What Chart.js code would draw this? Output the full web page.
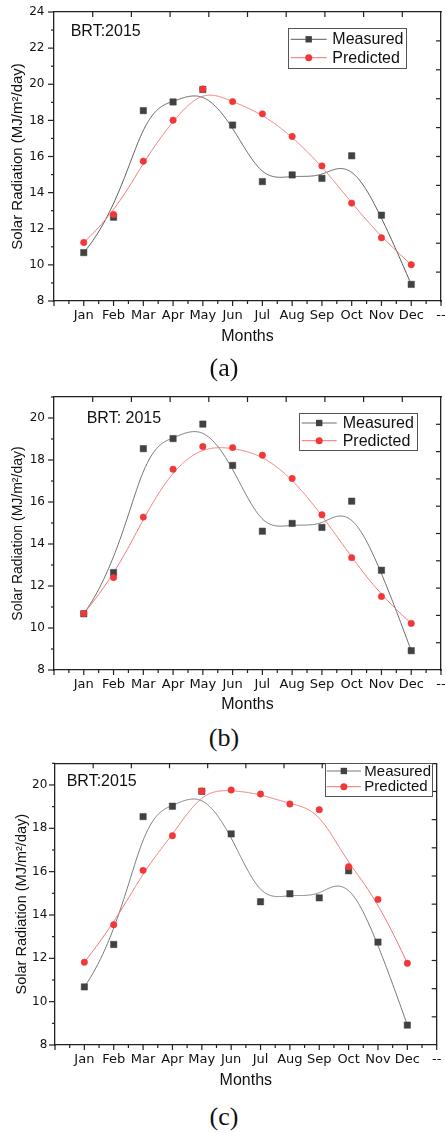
<!DOCTYPE html>
<html>
<head>
<meta charset="utf-8">
<script src="https://cdn.jsdelivr.net/npm/chart.js@4.4.1/dist/chart.umd.min.js"></script>
<style>
html,body{margin:0;padding:0;background:#fff;}
body{width:446px;height:1133px;position:relative;overflow:hidden;}
canvas{position:absolute;left:0;}
.cap{position:absolute;left:0;width:448px;text-align:center;font-family:"Liberation Serif","Times New Roman",serif;font-size:26px;line-height:26px;color:#111;}
</style>
</head>
<body>
<canvas id="ca" width="446" height="350" style="top:0px"></canvas>
<canvas id="cb" width="446" height="340" style="top:380px"></canvas>
<canvas id="cc" width="446" height="340" style="top:755px"></canvas>
<div class="cap" style="top:355px">(a)</div>
<div class="cap" style="top:725px">(b)</div>
<div class="cap" style="top:1104px">(c)</div>
<script>
// ---- data ----
const months = ['Jan','Feb','Mar','Apr','May','Jun','Jul','Aug','Sep','Oct','Nov','Dec'];
const xTickLabels = ['', ...months, '--'];
const measured   = [10.68, 12.64, 18.54, 19.02, 19.71, 17.74, 14.61, 14.98, 14.79, 16.04, 12.75, 8.92];
const predictedA = [11.24, 12.79, 15.74, 18.01, 19.74, 19.04, 18.36, 17.11, 15.48, 13.42, 11.50, 10.01];
const predictedB = [10.69, 12.40, 15.28, 17.56, 18.64, 18.59, 18.23, 17.12, 15.39, 13.35, 11.50, 10.22];
const predictedC = [11.82, 13.55, 16.06, 17.66, 19.72, 19.77, 19.58, 19.12, 18.86, 16.23, 14.72, 11.77];
const yLabeledA = [8, 10, 12, 14, 16, 18, 20, 22, 24];
const yLabeledBC = [8, 10, 12, 14, 16, 18, 20];
const seriesNames = ['Measured', 'Predicted'];

Chart.defaults.font.family = '"Liberation Sans", Arial, sans-serif';
Chart.defaults.color = '#111';

// B-spline curve (Origin style) through the dataset elements' pixel positions
const bsplinePlugin = {
  id: 'bspline',
  beforeDatasetsDraw(chart) {
    const ctx = chart.ctx, a = chart.chartArea;
    ctx.save();
    ctx.beginPath(); ctx.rect(a.left, a.top, a.right - a.left, a.bottom - a.top); ctx.clip();
    chart.data.datasets.forEach((ds, i) => {
      const meta = chart.getDatasetMeta(i);
      const P = meta.data.map(e => ({x: e.x, y: e.y}));
      const n = P.length, p = 3, m = n - p;
      const t = [];
      for (let k = 0; k < p; k++) t.push(0);
      for (let k = 0; k <= m; k++) t.push(k);
      for (let k = 0; k < p; k++) t.push(m);
      ctx.beginPath();
      const steps = 500;
      for (let s = 0; s <= steps; s++) {
        const u = m * s / steps;
        let k = p;
        while (k < n - 1 && u >= t[k + 1]) k++;
        const d = [];
        for (let j = 0; j <= p; j++) d.push({x: P[j + k - p].x, y: P[j + k - p].y});
        for (let r = 1; r <= p; r++) {
          for (let j = p; j >= r; j--) {
            const den = t[j + 1 + k - r] - t[j + k - p];
            const al = den === 0 ? 0 : (u - t[j + k - p]) / den;
            d[j] = {x: (1 - al) * d[j - 1].x + al * d[j].x, y: (1 - al) * d[j - 1].y + al * d[j].y};
          }
        }
        if (s === 0) ctx.moveTo(d[p].x, d[p].y); else ctx.lineTo(d[p].x, d[p].y);
      }
      ctx.strokeStyle = ds.curveColor;
      ctx.lineWidth = ds.curveWidth;
      ctx.stroke();
    });
    ctx.restore();
  }
};

// tick marks: outward on bottom/left, inward on the mirror top/right axes
const tickPlugin = {
  id: 'tickmarks',
  afterDraw(chart, args, o) {
    const ctx = chart.ctx, a = chart.chartArea;
    ctx.save();
    ctx.strokeStyle = '#222';
    ctx.lineWidth = 1.2;
    const line = (x1, y1, x2, y2) => { ctx.beginPath(); ctx.moveTo(x1, y1); ctx.lineTo(x2, y2); ctx.stroke(); };
    const sx = chart.scales.x, sy = chart.scales.y, sx2 = chart.scales.x2, sy2 = chart.scales.y2;
    sx.ticks.forEach(t => {
      const px = sx.getPixelForValue(t.value);
      const L = Number.isInteger(t.value) ? o.xMajor : o.xMinor;
      line(px, a.bottom, px, a.bottom + L);
    });
    sy.ticks.forEach(t => {
      const py = sy.getPixelForValue(t.value);
      const L = (t.value % 2 === 0) ? o.yMajor : o.yMinor;
      line(a.left - L, py, a.left, py);
    });
    sx2.ticks.forEach(t => {
      if (t.value <= sx2.min || t.value >= sx2.max) return;
      const px = sx2.getPixelForValue(t.value);
      line(px, a.top, px, a.top + o.inner);
    });
    sy2.ticks.forEach(t => {
      if (t.value <= sy2.min || t.value >= sy2.max) return;
      const py = sy2.getPixelForValue(t.value);
      line(a.right - o.inner, py, a.right, py);
    });
    ctx.restore();
  }
};

// boxed legend with line+marker samples and the "BRT" note
const legendPlugin = {
  id: 'boxLegend',
  afterDraw(chart, args, o) {
    const ctx = chart.ctx;
    ctx.save();
    const [x1, y1, x2, y2] = o.box;
    ctx.fillStyle = '#fff';
    ctx.fillRect(x1, y1, x2 - x1, y2 - y1);
    ctx.strokeStyle = '#555';
    ctx.lineWidth = 1;
    ctx.strokeRect(Math.round(x1) + 0.5, Math.round(y1) + 0.5, Math.round(x2 - x1), Math.round(y2 - y1));
    ctx.font = o.fontSize + 'px "Liberation Sans", Arial, sans-serif';
    ctx.textBaseline = 'middle';
    ctx.textAlign = 'left';
    chart.data.datasets.forEach((ds, i) => {
      const y = o.rows[i];
      ctx.strokeStyle = ds.curveColor;
      ctx.lineWidth = ds.curveWidth;
      ctx.beginPath(); ctx.moveTo(o.line[0], y); ctx.lineTo(o.line[1], y); ctx.stroke();
      const cx = (o.line[0] + o.line[1]) / 2;
      ctx.fillStyle = ds.pointBackgroundColor;
      if (ds.pointStyle === 'rect') {
        const h = ds.pointRadius * Math.SQRT1_2;
        ctx.fillRect(cx - h, y - h, 2 * h, 2 * h);
      } else {
        ctx.beginPath(); ctx.arc(cx, y, ds.pointRadius + 0.3, 0, Math.PI * 2); ctx.fill();
      }
      ctx.fillStyle = '#111';
      ctx.fillText(ds.label, o.textX, y + 0.5);
    });
    ctx.font = o.noteSize + 'px "Liberation Sans", Arial, sans-serif';
    ctx.fillStyle = '#111';
    ctx.fillText(o.note, o.noteX, o.noteY);
    ctx.restore();
  }
};

function makeChart(id, pred, c) {
  const xTickFont = {family: '"DejaVu Sans", sans-serif', size: 13};
  const yTickFont = {family: '"DejaVu Sans", sans-serif', size: 12};
  return new Chart(document.getElementById(id), {
    type: 'line',
    data: {
      datasets: [
        {
          label: seriesNames[0],
          data: measured.map((v, i) => ({x: i + 1, y: v})),
          showLine: false, order: 1,
          pointStyle: 'rect', pointRadius: 4.5, pointBorderWidth: 0.5,
          pointBackgroundColor: '#414141', pointBorderColor: '#414141',
          curveColor: c.mLine, curveWidth: 1
        },
        {
          label: seriesNames[1],
          data: pred.map((v, i) => ({x: i + 1, y: v})),
          showLine: false, order: 0,
          pointStyle: 'circle', pointRadius: 3.2, pointBorderWidth: 0.6,
          pointBackgroundColor: '#f03838', pointBorderColor: '#f03838',
          curveColor: '#f07272', curveWidth: 1
        }
      ]
    },
    options: {
      responsive: false, animation: false, events: [],
      devicePixelRatio: 1,
      layout: {padding: {top: c.padTop, right: c.padRight, left: 0, bottom: 0}},
      plugins: {
        legend: {display: false}, tooltip: {enabled: false},
        tickmarks: {xMajor: 5, xMinor: 3, yMajor: 6, yMinor: 3, inner: 5},
        boxLegend: c.legend
      },
      scales: {
        x: {
          type: 'linear', position: 'bottom', min: 0, max: 13,
          ticks: {stepSize: 0.5, autoSkip: false, maxRotation: 0, minRotation: 0, padding: c.xPad,
                  color: '#111', font: xTickFont,
                  callback: v => Number.isInteger(v) ? xTickLabels[v] : ''},
          grid: {drawOnChartArea: false, drawTicks: true, tickLength: 5, tickColor: 'rgba(0,0,0,0)'},
          border: {display: true, color: '#222', width: 1.3},
          title: {display: true, text: 'Months', color: '#111',
                  font: {family: '"Liberation Sans", Arial, sans-serif', size: 16},
                  padding: {top: 0, bottom: c.xTitlePad}},
          afterFit: s => { s.height = c.xH; s.paddingLeft = 0; s.paddingRight = 0; }
        },
        y: {
          type: 'linear', position: 'left', min: 8, max: c.yMax,
          ticks: {stepSize: 1, autoSkip: false, padding: c.yPad, color: '#111', font: yTickFont,
                  callback: v => c.yLabeled.includes(v) ? String(v) : ''},
          grid: {drawOnChartArea: false, drawTicks: true, tickLength: 6, tickColor: 'rgba(0,0,0,0)'},
          border: {display: true, color: '#222', width: 1.3},
          title: {display: true, text: 'Solar Radiation (MJ/m²/day)', color: '#111',
                  font: {family: '"Liberation Sans", Arial, sans-serif', size: c.yTitleSize},
                  padding: {top: c.yTitlePad, bottom: 0}},
          afterFit: s => { s.width = c.yW; s.paddingTop = 0; s.paddingBottom = 0; }
        },
        x2: {
          type: 'linear', position: 'top', min: 0, max: 10,
          ticks: {display: false, stepSize: 1},
          grid: {display: false, drawTicks: false},
          border: {display: true, color: '#222', width: 1.3},
          afterFit: s => { s.height = 0; s.paddingLeft = 0; s.paddingRight = 0; }
        },
        y2: {
          type: 'linear', position: 'right', min: 0, max: 10,
          ticks: {display: false, stepSize: 1},
          grid: {display: false, drawTicks: false},
          border: {display: true, color: '#222', width: 1.3},
          afterFit: s => { s.width = 0; s.paddingTop = 0; s.paddingBottom = 0; }
        }
      }
    },
    plugins: [bsplinePlugin, tickPlugin, legendPlugin]
  });
}

makeChart('ca', predictedA, {
  padTop: 12, padRight: 1, xH: 49, yW: 54, yMax: 24, yLabeled: yLabeledA,
  xPad: 1.5, xTitlePad: 3.4, yPad: 3.5, yTitleSize: 15, yTitlePad: 9, mLine: '#5a5a5a',
  legend: {box: [288.3, 28.3, 406.7, 68.3], rows: [39.3, 57.7], line: [290.7, 326.7], textX: 332.3, fontSize: 16,
           note: 'BRT:2015', noteX: 70.7, noteY: 32, noteSize: 16}
});
makeChart('cb', predictedB, {
  padTop: 17, padRight: 3, xH: 50, yW: 54, yMax: 21, yLabeled: yLabeledBC,
  xPad: 1.6, xTitlePad: 5.4, yPad: 3, yTitleSize: 14, yTitlePad: 9.6, mLine: '#6e6e6e',
  legend: {box: [299, 33.3, 416.7, 70.7], rows: [43, 60.7], line: [301.7, 336.7], textX: 342.7, fontSize: 16,
           note: 'BRT: 2015', noteX: 86.7, noteY: 38.5, noteSize: 16}
});
makeChart('cc', predictedC, {
  padTop: 8.3, padRight: 9.3, xH: 50, yW: 55, yMax: 21, yLabeled: yLabeledBC,
  xPad: 1.6, xTitlePad: 4.7, yPad: 1.7, yTitleSize: 14.5, yTitlePad: 13, mLine: '#777777',
  legend: {box: [325, 7.7, 432.3, 41], rows: [16, 31.7], line: [326.7, 361], textX: 364.3, fontSize: 15,
           note: 'BRT:2015', noteX: 66.7, noteY: 27, noteSize: 16}
});
</script>
</body>
</html>
